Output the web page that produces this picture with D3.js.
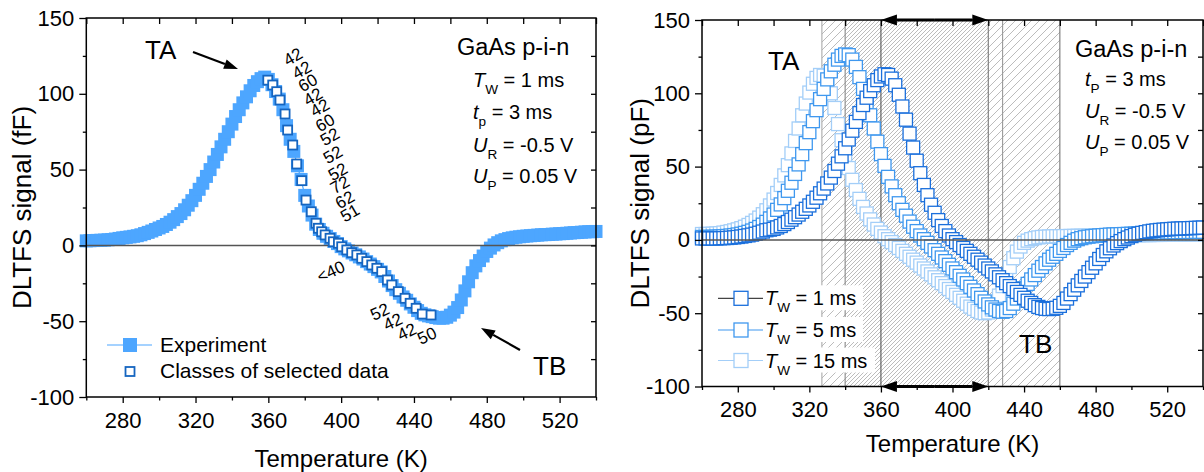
<!DOCTYPE html>
<html><head><meta charset="utf-8">
<script src="https://cdn.jsdelivr.net/npm/d3@7"></script>
<style>
body{margin:0;background:#fff;}
text{font-family:"Liberation Sans",Arial,Helvetica,sans-serif;fill:#000;}
</style></head>
<body><svg id="c" width="1204" height="472"></svg>
<script>
// ---------------- DATA ----------------
const temps = [260,262,264,266,268,270,272,274,276,278,280,282,284,286,288,290,292,294,296,298,300,302,304,306,308,310,312,314,316,318,320,322,324,326,328,330,332,334,336,338,340,342,344,346,348,350,352,354,356,358,360,362,364,366,368,370,372,374,376,378,380,382,384,386,388,390,392,394,396,398,400,402,404,406,408,410,412,414,416,418,420,422,424,426,428,430,432,434,436,438,440,442,444,446,448,450,452,454,456,458,460,462,464,466,468,470,472,474,476,478,480,482,484,486,488,490,492,494,496,498,500,502,504,506,508,510,512,514,516,518,520,522,524,526,528,530,532,534,536,538,540];

// Left panel: experiment (fF)
const expY = [3.0,3.1,3.2,3.3,3.4,3.5,3.7,3.9,4.2,4.6,5.0,5.3,5.6,6.0,6.4,7.0,7.8,8.6,9.5,10.5,11.5,12.5,13.8,15.3,17.0,19.0,21.0,23.5,26.5,29.5,33.0,37.0,41.0,45.5,50.0,55.0,60.0,65.0,70.0,75.0,80.0,85.0,89.5,94.0,98.0,102.0,105.5,108.0,110.0,111.0,109.5,106.0,101.5,96.5,89.5,79.0,70.0,62.0,52.5,43.5,33.0,26.0,20.0,14.0,10.5,8.0,6.0,4.5,2.6,1.2,-0.8,-2.3,-3.6,-5.0,-6.2,-7.6,-9.0,-10.7,-12.3,-14.0,-15.8,-17.5,-20.5,-23.5,-26.5,-29.2,-31.6,-34.0,-36.2,-38.6,-40.8,-43.0,-44.8,-45.8,-46.5,-47.0,-47.6,-48.0,-48.0,-47.4,-46.0,-44.0,-41.0,-36.0,-30.0,-24.0,-18.0,-13.5,-10.0,-7.0,-4.0,-1.8,0.3,1.8,3.0,3.8,4.5,5.0,5.4,5.7,6.0,6.2,6.4,6.6,6.8,7.0,7.1,7.2,7.4,7.5,7.7,7.8,8.0,8.2,8.4,8.5,8.7,8.9,9.0,9.1,9.2];

// Left panel: classes of selected data
const selT = [359.7,362.4,364.6,366.4,369.2,370.6,373.4,375.6,378.3,380.7,383.6,386.2,387.5,389.3,391.2,393.9,395.7,398.5,400.3,403.1,405.8,408.6,411.3,414.1,416.8,419.6,422.3,425.4,427.8,431.4,435.1,437.9,441.2,444.6,449.4];
const selY = [109,105.8,101.4,95.9,86.7,76.1,66.2,53.7,42.7,29.9,22.2,14.6,11.3,9.0,6.9,4.7,2.4,1.4,-0.9,-3.0,-4.8,-6.3,-8.5,-10.7,-12.9,-15.1,-17.3,-22.8,-26.1,-30.5,-34.9,-38.2,-41.5,-45.3,-45.9];

// Class size labels (text + anchor in data units)
const classLabels = ["42","42","60","42","42","60","52","52","52","72","62","51"];
const classLabelT = [373.6,378.5,381.8,384.6,388.4,391.2,393.9,395.5,398.3,399.4,402.1,404.9];
const classLabelY = [124.3,115.6,107.1,97.9,90.6,80.7,71.5,59.6,48.4,39.8,29.9,21.2];
const lowLabels = ["<40","52","42","42","50"];
const lowLabelT = [394.4,421.3,428.5,436.2,447.2];
const lowLabelY = [-17.5,-43.9,-50.5,-57.1,-59.8];

// Right panel series (pF)
const tw1 = [1.0,1.0,1.0,1.0,1.0,1.1,1.2,1.3,1.5,1.7,2.0,2.3,2.7,3.1,3.6,4.2,4.9,5.7,6.6,7.0,7.5,8.5,9.5,10.8,12.2,13.8,15.5,17.3,19.2,21.2,23.5,26.0,28.8,31.8,35.0,38.5,42.5,47.0,52.0,57.0,62.5,68.5,74.5,80.5,86.5,92.0,97.0,101.5,105.5,109.0,111.5,113.0,112.5,110.0,105.5,99.0,91.0,82.0,72.5,63.0,54.0,45.5,37.5,30.5,24.0,18.5,13.5,9.5,6.0,3.0,0.5,-1.5,-3.5,-5.5,-7.5,-9.5,-11.5,-13.5,-15.5,-17.5,-19.5,-21.5,-23.5,-25.5,-27.5,-29.5,-31.5,-33.5,-35.5,-37.5,-39.5,-41.5,-43.0,-44.5,-45.7,-46.5,-47.0,-47.2,-47.0,-46.3,-45.0,-43.0,-40.0,-37.0,-34.0,-31.0,-28.0,-25.0,-22.0,-19.0,-16.0,-13.0,-10.3,-7.8,-5.7,-3.8,-2.2,-0.8,0.5,1.6,2.6,3.5,4.2,4.8,5.3,5.8,6.2,6.5,6.8,7.0,7.2,7.4,7.6,7.7,7.8,7.9,8.0,8.1,8.2,8.3,8.4];
const tw5 = [2.0,2.0,2.0,2.1,2.2,2.3,2.5,2.7,3.0,3.3,3.7,4.2,4.8,5.5,6.4,7.5,8.8,10.4,12.3,14.6,17.3,20.5,24.2,28.5,33.5,39.0,45.0,51.5,58.5,66.0,73.5,81.0,88.5,96.0,103.0,109.5,115.0,119.5,123.0,125.5,126.5,126.0,123.0,118.0,111.0,103.0,94.0,85.0,76.0,67.0,58.5,50.5,43.0,36.5,30.5,25.0,20.5,16.5,12.5,9.0,6.0,3.0,0.5,-2.0,-4.5,-7.0,-9.5,-12.0,-14.5,-17.0,-19.5,-22.0,-24.5,-27.0,-29.5,-32.0,-34.5,-37.0,-39.5,-42.0,-44.0,-46.0,-47.5,-48.5,-49.0,-48.5,-46.5,-43.5,-40.0,-36.5,-33.0,-30.0,-27.0,-24.0,-21.0,-18.5,-16.0,-13.5,-11.5,-9.5,-7.5,-5.5,-3.5,-2.0,-0.5,0.5,1.2,1.8,2.2,2.5,2.8,3.0,3.2,3.4,3.6,3.7,3.8,3.9,4.0,4.1,4.2,4.3,4.4,4.5,4.6,4.7,4.8,4.9,5.0,5.0,5.1,5.1,5.2,5.2,5.3,5.3,5.4,5.4,5.5,5.5,5.5];
const tw15 = [4.0,4.0,4.1,4.2,4.4,4.6,5.0,5.4,5.9,6.5,7.2,8.0,9.0,10.2,11.6,13.2,15.2,17.5,20.2,23.5,27.5,32.0,37.5,44.0,51.0,59.0,67.5,76.0,85.0,93.0,100.5,106.5,110.5,112.5,112.0,108.0,100.0,90.0,79.0,68.0,58.0,49.0,41.0,34.0,28.0,22.5,18.0,14.0,10.5,7.5,5.0,2.5,0.5,-1.5,-3.5,-5.5,-7.5,-9.5,-11.5,-13.5,-15.5,-17.5,-19.5,-21.5,-23.5,-25.5,-27.5,-29.5,-31.5,-33.5,-35.5,-37.5,-39.5,-41.5,-43.5,-45.5,-47.0,-48.5,-49.5,-50.0,-49.5,-47.5,-43.5,-38.0,-31.5,-25.0,-18.5,-12.5,-8.0,-4.5,-2.0,-0.5,0.5,1.2,1.7,2.0,2.2,2.3,2.4,2.5,2.5,2.6,2.6,2.7,2.7,2.8,2.8,2.8,2.9,2.9,2.9,3.0,3.0,3.0,3.0,3.1,3.1,3.1,3.1,3.2,3.2,3.2,3.2,3.3,3.3,3.3,3.4,3.4,3.4,3.5,3.5,3.5,3.6,3.6,3.6,3.7,3.7,3.8,3.8,3.9,4.0];

// Hatched temperature windows in the right panel (K)
const windowA = [327, 420];
const windowB = [340, 460];
const guideT = [327, 340, 360, 420, 428, 460];
const arrowSpan = [360, 420];

// Axis ticks
const xMajor = [280,320,360,400,440,480,520];
const xMinor = [260,300,340,380,420,460,500,540];
const xTop = [260,280,300,320,340,360,380,400,420,440,460,480,500,520,540];
const yMajor = [-100,-50,0,50,100,150];
const yMinor = [-75,-25,25,75,125];
const yRight = [-75,-50,-25,0,25,50,75,100,125];

// ---------------- DRAW ----------------
const svg = d3.select("#c");
const fmt = d => String(d);

function axes(g, x, y, L, R, T, B, ylabel, ytitleX, xtitleY){
  const ax = (gen) => { const a = g.append("g").call(gen); a.select(".domain").remove();
    a.selectAll("line").attr("stroke","#000").attr("stroke-width",1.3);
    a.selectAll("text").style("font-size","22px").attr("fill","#000"); return a; };
  ax(d3.axisBottom(x).tickValues(xMajor).tickSize(6).tickPadding(9).tickFormat(fmt)).attr("transform",`translate(0,${B})`);
  ax(d3.axisBottom(x).tickValues(xMinor).tickSize(3.5).tickFormat("")).attr("transform",`translate(0,${B})`);
  ax(d3.axisTop(x).tickValues(xTop).tickSize(-6).tickFormat("")).attr("transform",`translate(0,${T})`);
  ax(d3.axisLeft(y).tickValues(yMajor).tickSize(7).tickPadding(5).tickFormat(fmt)).attr("transform",`translate(${L},0)`);
  ax(d3.axisLeft(y).tickValues(yMinor).tickSize(3.5).tickFormat("")).attr("transform",`translate(${L},0)`);
  ax(d3.axisRight(y).tickValues(yRight).tickSize(-5).tickFormat("")).attr("transform",`translate(${R},0)`);
  g.append("rect").attr("x",L).attr("y",T).attr("width",R-L).attr("height",B-T)
    .attr("fill","none").attr("stroke","#000").attr("stroke-width",1.5);
  g.append("text").attr("x",(L+R)/2).attr("y",xtitleY).attr("text-anchor","middle")
    .style("font-size","24px").text("Temperature (K)");
  g.append("text").attr("transform",`translate(${ytitleX},${(T+B)/2}) rotate(-90)`)
    .attr("text-anchor","middle").style("font-size","26px").text(ylabel);
}

function param(g, x, y, main, sub, rest, size, italic=true){
  const t = g.append("text").attr("x",x).attr("y",y).style("font-size",size+"px");
  t.append("tspan").text(main).style("font-style", italic ? "italic":"normal");
  t.append("tspan").text(sub).attr("dy",7).style("font-size",(size*0.68)+"px");
  t.append("tspan").text(rest).attr("dy",-7);
}

function arrow(g, x1,y1,x2,y2, head=14, hw=5, w=2.2){
  const ang = Math.atan2(y2-y1,x2-x1);
  const bx = x2 - head*Math.cos(ang), by = y2 - head*Math.sin(ang);
  g.append("line").attr("x1",x1).attr("y1",y1).attr("x2",bx).attr("y2",by).attr("stroke","#000").attr("stroke-width",w);
  const px = -Math.sin(ang)*hw, py = Math.cos(ang)*hw;
  g.append("path").attr("d",`M${x2},${y2}L${bx+px},${by+py}L${bx-px},${by-py}Z`).attr("fill","#000");
}

// ===== LEFT PANEL =====
{
  const L=86.3,R=596,T=18,B=397;
  const x = d3.scaleLinear().domain([260,540]).range([L,R]);
  const y = d3.scaleLinear().domain([-100,150]).range([B,T]);
  const g = svg.append("g");
  const exp = temps.map((t,i)=>({t, v:expY[i]}));
  const s=13;
  g.append("path").datum(exp).attr("d", d3.line().x(d=>x(d.t)).y(d=>y(d.v)))
    .attr("fill","none").attr("stroke","#4da6ff").attr("stroke-width",1.2);
  g.selectAll("rect.exp").data(exp).join("rect").attr("class","exp")
    .attr("x",d=>x(d.t)-s/2).attr("y",d=>y(d.v)-s/2).attr("width",s).attr("height",s)
    .attr("fill","#4da6ff");
  g.append("line").attr("x1",L).attr("x2",R).attr("y1",y(0)).attr("y2",y(0))
    .attr("stroke","#555").attr("stroke-width",1.5);
  const sel = selT.map((t,i)=>({t, v:selY[i]}));
  const s2=9;
  g.selectAll("rect.sel").data(sel).join("rect").attr("class","sel")
    .attr("x",d=>x(d.t)-s2/2).attr("y",d=>y(d.v)-s2/2).attr("width",s2).attr("height",s2)
    .attr("fill","#fff").attr("stroke","#1565c0").attr("stroke-width",1.8);
  classLabels.forEach((lab,i)=>{
    g.append("text").attr("transform",`translate(${x(classLabelT[i])},${y(classLabelY[i])}) rotate(-30)`)
      .attr("text-anchor","middle").attr("dominant-baseline","central").style("font-size","17px").text(lab);
  });
  lowLabels.forEach((lab,i)=>{
    g.append("text").attr("transform",`translate(${x(lowLabelT[i])},${y(lowLabelY[i])}) rotate(-25)`)
      .attr("text-anchor","middle").attr("dominant-baseline","central").style("font-size","17px").text(lab);
  });
  axes(g,x,y,L,R,T,B,"DLTFS signal (fF)",31,466.5);
  // annotations
  g.append("text").attr("x",145).attr("y",59).style("font-size","26px").text("TA");
  arrow(g, 193,52, 238,69);
  g.append("text").attr("x",533).attr("y",375).style("font-size","26px").text("TB");
  arrow(g, 520,350, 481,328);
  g.append("text").attr("x",457).attr("y",55).style("font-size","23.5px").text("GaAs p-i-n");
  param(g,473,86.7,"T","W"," = 1 ms",20);
  param(g,473,119,"t","p"," = 3 ms",20);
  param(g,473,151.7,"U","R"," = -0.5 V",20);
  param(g,473,183.3,"U","P"," = 0.05 V",20);
  // legend
  g.append("line").attr("x1",107).attr("x2",152).attr("y1",345).attr("y2",345).attr("stroke","#4da6ff").attr("stroke-width",1.2);
  g.append("rect").attr("x",123).attr("y",338).attr("width",14).attr("height",14).attr("fill","#4da6ff");
  g.append("text").attr("x",160).attr("y",352).style("font-size","21px").text("Experiment");
  g.append("rect").attr("x",125.5).attr("y",367).attr("width",9).attr("height",9).attr("fill","#fff").attr("stroke","#1565c0").attr("stroke-width",1.8);
  g.append("text").attr("x",160).attr("y",378).style("font-size","21px").text("Classes of selected data");
}

// ===== RIGHT PANEL =====
{
  const L=702,R=1203,T=20,B=386.5;
  const x = d3.scaleLinear().domain([260,540]).range([L,R]);
  const y = d3.scaleLinear().domain([-100,150]).range([B,T]);
  const g = svg.append("g");
  const defs = svg.append("defs");
  [["hA",0],["hB",4]].forEach(([id,off])=>{
    const p = defs.append("pattern").attr("id",id).attr("patternUnits","userSpaceOnUse")
      .attr("width",8).attr("height",8).attr("patternTransform",`translate(${off},0)`);
    p.append("path").attr("d","M-2,2 L2,-2 M0,8 L8,0 M6,10 L10,6")
      .attr("stroke","#b4b4b4").attr("stroke-width",0.9);
  });
  g.append("rect").attr("x",x(windowA[0])).attr("width",x(windowA[1])-x(windowA[0]))
    .attr("y",T).attr("height",B-T).attr("fill","url(#hA)");
  g.append("rect").attr("x",x(windowB[0])).attr("width",x(windowB[1])-x(windowB[0]))
    .attr("y",T).attr("height",B-T).attr("fill","url(#hB)");
  const guideCol = ["#aaa","#888","#555","#777","#999","#777"];
  guideT.forEach((t,i)=> g.append("line").attr("x1",x(t)).attr("x2",x(t)).attr("y1",T).attr("y2",B)
    .attr("stroke",guideCol[i]).attr("stroke-width",1.1));
  const series = [
    {vals:tw15, col:"#a3cef8", line:"#a3cef8", label:"15 ms"},
    {vals:tw5, col:"#3f98ef", line:"#3f98ef", label:"5 ms"},
    {vals:tw1, col:"#1a6fdc", line:"#444", label:"1 ms"}];
  const s=13;
  series.forEach(sr=>{
    const d = temps.map((t,i)=>({t,v:sr.vals[i]}));
    g.append("g").selectAll("rect").data(d).join("rect")
      .attr("x",p=>x(p.t)-s/2).attr("y",p=>y(p.v)-s/2).attr("width",s).attr("height",s)
      .attr("fill","#fff").attr("stroke",sr.col).attr("stroke-width",1.3);
  });
  g.append("line").attr("x1",L).attr("x2",R).attr("y1",y(0)).attr("y2",y(0))
    .attr("stroke","#555").attr("stroke-width",1.5);
  axes(g,x,y,L,R,T,B,"DLTFS signal (pF)",649,451.5);
  // double arrows
  [T,B].forEach(yy=>{
    const x1=x(arrowSpan[0]), x2=x(arrowSpan[1]), mid=(x1+x2)/2;
    arrow(g, mid,yy, x1,yy, 16,5.5,3);
    arrow(g, mid,yy, x2,yy, 16,5.5,3);
  });
  g.append("text").attr("x",768).attr("y",70).style("font-size","26px").text("TA");
  g.append("text").attr("x",1019).attr("y",353).style("font-size","26px").text("TB");
  g.append("text").attr("x",1075).attr("y",56.7).style("font-size","23.5px").text("GaAs p-i-n");
  param(g,1085,86,"t","P"," = 3 ms",20);
  param(g,1085,118,"U","R"," = -0.5 V",20);
  param(g,1085,149,"U","P"," = 0.05 V",20);
  // legend
  const rows = [298.3,330,360.5];
  const legOrder = [series[2],series[1],series[0]];
  const widths = [150,150,162];
  legOrder.forEach((sr,i)=>{
    const cy = rows[i];
    g.append("rect").attr("x",713).attr("y",cy-13).attr("width",widths[i]).attr("height",25).attr("fill","#fff");
    g.append("line").attr("x1",718).attr("x2",763).attr("y1",cy).attr("y2",cy).attr("stroke",sr.line).attr("stroke-width",1.2);
    g.append("rect").attr("x",734).attr("y",cy-7).attr("width",14).attr("height",14).attr("fill","#fff").attr("stroke",sr.col).attr("stroke-width",1.3);
    param(g,765,cy+7,"T","W"," = "+sr.label,20);
  });
}
</script></body></html>
